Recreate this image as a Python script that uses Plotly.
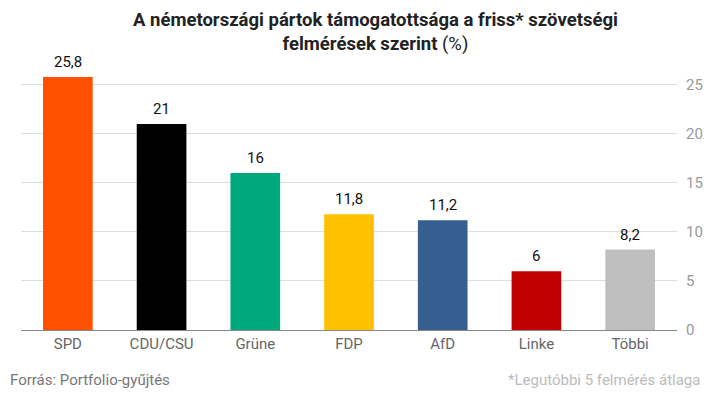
import plotly.graph_objects as go

parties = ["SPD", "CDU/CSU", "Grüne", "FDP", "AfD", "Linke", "Többi"]
support = [25.8, 21, 16, 11.8, 11.2, 6, 8.2]
colors = ["#FF5000", "#000000", "#00A97B", "#FFC000", "#355E91", "#C00000", "#BFBFBF"]
labels = ["25,8", "21", "16", "11,8", "11,2", "6", "8,2"]
yticks = [0, 5, 10, 15, 20, 25]

fig = go.Figure(go.Bar(
    x=parties, y=support, marker=dict(color=colors, line=dict(width=0)),
    hoverinfo="x+y",
))

L, R, T, B = 21, 45, 75, 68
fig.update_layout(
    width=722, height=398, margin=dict(l=L, r=R, t=T, b=B, autoexpand=False),
    paper_bgcolor="white", plot_bgcolor="white",
    bargap=0.47, showlegend=False,
    font=dict(family="Roboto"),
    xaxis=dict(showline=True, linecolor="#888", linewidth=1, ticks="",
               tickfont=dict(size=15, color="#666")),
    yaxis=dict(side="right", range=[0, 26], tickvals=yticks, ticktext=[str(v) for v in yticks],
               showgrid=True, gridcolor="#dddddd", zeroline=False, showline=False,
               tickfont=dict(size=15, color="#999"), ticklabelstandoff=8),
)
pw, ph = 722 - L - R, 398 - T - B
def px(x): return (x - L) / pw
def py(y): return (398 - B - y) / ph

anns = [dict(x=p, y=v, text=t, xref="x", yref="y", showarrow=False,
             xanchor="center", yanchor="bottom", yshift=4,
             font=dict(size=15, color="#111"))
        for p, v, t in zip(parties, support, labels)]
anns += [
    dict(text="<b>A németországi pártok támogatottsága a friss* szövetségi<br>felmérések szerint</b> (%)",
         x=px(375), y=py(32), xref="paper", yref="paper", showarrow=False,
         xanchor="center", yanchor="middle",
         font=dict(size=18.5, color="#222"), align="center"),
    dict(text="Forrás: Portfolio-gyűjtés", xref="paper", yref="paper",
         x=px(8), y=py(380), xanchor="left", yanchor="middle", showarrow=False,
         font=dict(size=15, color="#777")),
    dict(text="*Legutóbbi 5 felmérés átlaga", xref="paper", yref="paper",
         x=px(702), y=py(380), xanchor="right", yanchor="middle", showarrow=False,
         font=dict(size=15, color="#bbb")),
]
fig.update_layout(annotations=anns)
fig.write_html("out.html", config={"displayModeBar": False},
               post_script="document.body.style.margin='0';")
